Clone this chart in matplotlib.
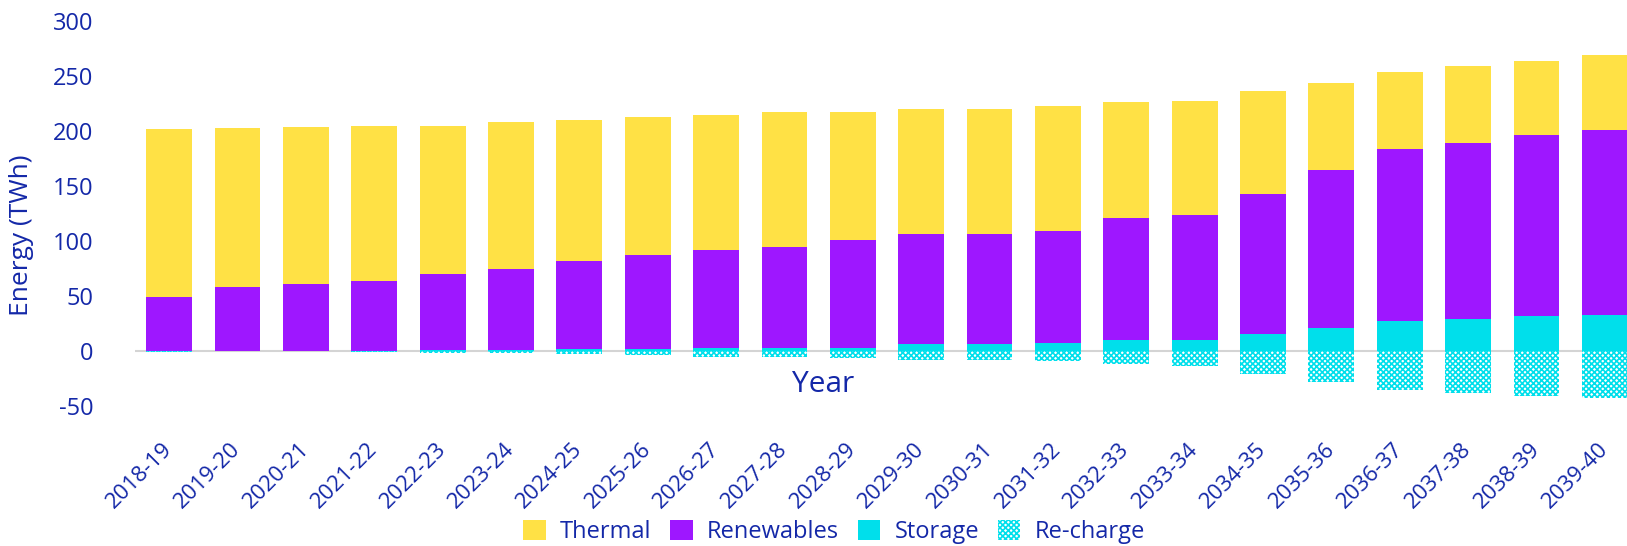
import numpy as np
import matplotlib.pyplot as plt
from matplotlib.patches import Patch

plt.rcParams['font.family'] = ['Open Sans', 'DejaVu Sans']
plt.rcParams['hatch.linewidth'] = 1.2

years = ["2018-19", "2019-20", "2020-21", "2021-22", "2022-23", "2023-24",
         "2024-25", "2025-26", "2026-27", "2027-28", "2028-29", "2029-30",
         "2030-31", "2031-32", "2032-33", "2033-34", "2034-35", "2035-36",
         "2036-37", "2037-38", "2038-39", "2039-40"]

# totals (TWh)
total = [202, 203, 204, 205, 205, 208, 210, 213, 215, 217, 217, 220,
         220, 223, 226, 227, 236, 244, 254, 259, 264, 269]
top_renew = [49, 58.5, 61, 64, 70, 75, 82, 87, 92, 95, 101, 106,
             106, 109, 121, 124, 143, 164.5, 184, 189, 196, 201]
storage = [0.3, 0.3, 0.3, 0.3, 0.5, 0.5, 1.5, 2, 3, 2.5, 3, 6,
           6, 7, 10, 10, 15.5, 21, 27, 29, 32, 33]
recharge = [-1, -0.3, -0.3, -1, -2, -2, -3, -4, -5, -5, -6, -8,
            -8, -9, -12, -13.4, -20.6, -27.9, -35, -38, -40.6, -42.4]

storage = np.array(storage)
renewables = np.array(top_renew) - storage
thermal = np.array(total) - np.array(top_renew)

c_thermal = '#FFE145'
c_renew = '#9E17FF'
c_storage = '#00DFEB'
txt = '#1428A8'

fig = plt.figure(figsize=(16.27, 5.46), dpi=100)
ax = fig.add_axes([135 / 1627, 1 - 406 / 546, 1504 / 1627, 385 / 546])

x = np.arange(len(years))
w = 0.67
ax.bar(x, storage, w, color=c_storage, linewidth=0)
ax.bar(x, renewables, w, bottom=storage, color=c_renew, linewidth=0)
ax.bar(x, thermal, w, bottom=storage + renewables, color=c_thermal, linewidth=0)
ax.bar(x, recharge, w, color='white', edgecolor=c_storage, hatch='xxxxxx', linewidth=0)

ax.axhline(0, color='#d4d4d4', lw=1.5, zorder=0)

ax.set_xlim(-0.5, len(years) - 0.5)
ax.set_ylim(-50, 300)
ax.set_yticks(range(-50, 301, 50))
ax.set_yticklabels([str(v) for v in range(-50, 301, 50)], fontsize=17, color=txt)
ax.tick_params(axis='y', length=0, pad=30)
ax.set_xticks(x)
ax.set_xticklabels(years, rotation=45, ha='right', va='center',
                   rotation_mode='anchor', fontsize=16, color=txt)
ax.tick_params(axis='x', length=0, pad=29)
for s in ax.spines.values():
    s.set_visible(False)

fig.text(22 / 1627, 1 - 235 / 546, 'Energy (TWh)', rotation=90, fontsize=19,
         color=txt, ha='center', va='center')
fig.text(823 / 1627, 1 - 384 / 546, 'Year', fontsize=21.5, color=txt,
         ha='center', va='center')

handles = [Patch(facecolor=c_thermal, label='Thermal'),
           Patch(facecolor=c_renew, label='Renewables'),
           Patch(facecolor=c_storage, label='Storage'),
           Patch(facecolor='white', edgecolor=c_storage, hatch='xxxxxx', lw=0,
                 label='Re-charge')]
leg = fig.legend(handles=handles, loc='center', ncol=4,
                 bbox_to_anchor=(834 / 1627, 1 - 532 / 546), frameon=False,
                 fontsize=17, handlelength=0.95, handleheight=0.95,
                 columnspacing=0.8, handletextpad=0.6)
for t in leg.get_texts():
    t.set_color(txt)

fig.savefig('out.png', dpi=100)
